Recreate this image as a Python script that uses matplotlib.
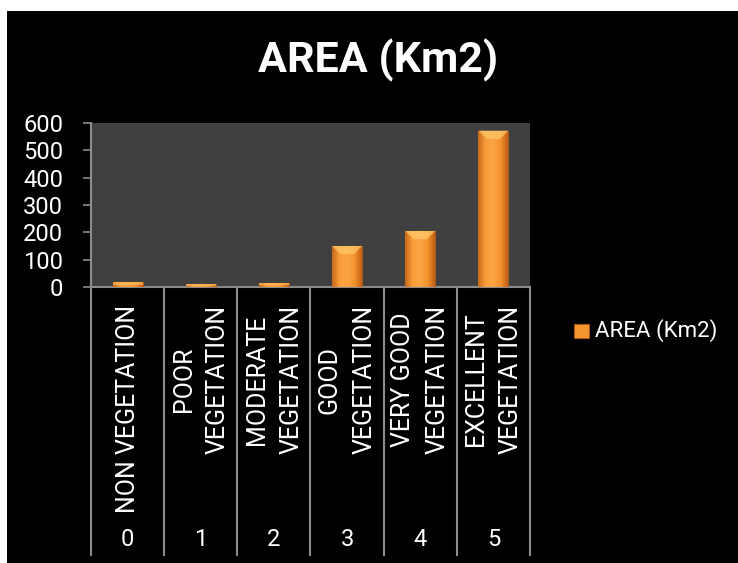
import matplotlib
matplotlib.use("Agg")
import matplotlib.pyplot as plt
import numpy as np
from matplotlib.patches import Rectangle
from matplotlib.colors import LinearSegmentedColormap

categories = ["NON VEGETATION", "POOR\nVEGETATION", "MODERATE\nVEGETATION",
              "GOOD\nVEGETATION", "VERY GOOD\nVEGETATION", "EXCELLENT\nVEGETATION"]
class_ids = ["0", "1", "2", "3", "4", "5"]
area_km2 = [17, 10, 15, 150, 205, 572]
y_ticks = [0, 100, 200, 300, 400, 500, 600]
series_name = "AREA (Km2)"
title = "AREA (Km2)"

FONT = ["Liberation Sans Narrow", "Roboto", "DejaVu Sans"]
plt.rcParams['font.family'] = FONT

W, H = 738, 563
fig = plt.figure(figsize=(W / 100, H / 100), dpi=100)
fig.patch.set_facecolor("white")
# black chart area with white margin at top/left
fig.add_artist(Rectangle((7 / W, 0), 1 - 7 / W, 1 - 11 / H, transform=fig.transFigure,
                         facecolor="black", edgecolor="none", zorder=-10))

left, right, top, bottom = 91, 530, 123, 287
ax = fig.add_axes([left / W, 1 - bottom / H, (right - left) / W, (bottom - top) / H])
ax.set_facecolor("#404040")

x = np.arange(len(categories))
bars = ax.bar(x, area_km2, width=0.41, color="#F7952E", edgecolor="#A85A1A",
              linewidth=0.8, zorder=3)

# horizontal gradient inside bars
cmap = LinearSegmentedColormap.from_list("og", ["#C8681C", "#FA9E3A", "#FBA446", "#F7952E", "#C26118"])
grad = np.linspace(0, 1, 64).reshape(1, -1)
for b in bars:
    bx, by, bw, bh = b.get_x(), b.get_y(), b.get_width(), b.get_height()
    im = ax.imshow(grad, cmap=cmap, extent=(bx, bx + bw, by, by + bh), aspect="auto", zorder=3.5)
    im.set_clip_path(b)
    # top bevel highlight
    if bh > 20:
        bev = min(bh * 0.25, 30)
        ax.fill([bx, bx + bw, bx + bw * 0.72, bx + bw * 0.28],
                [by + bh, by + bh, by + bh - bev, by + bh - bev],
                color="#FFC868", alpha=0.75, zorder=4, linewidth=0)
    else:
        ax.fill([bx, bx + bw, bx + bw, bx],
                [by + bh, by + bh, by + bh * 0.5, by + bh * 0.5],
                color="#FFC060", alpha=0.6, zorder=4, linewidth=0)

ax.set_xlim(-0.5, len(categories) - 0.5)
ax.set_ylim(0, 600)
ax.set_yticks(y_ticks)
ax.set_yticklabels([str(v) for v in y_ticks], color="white", fontsize=17)
ax.tick_params(axis="y", colors="#8C8C8C", labelcolor="white", length=6, width=1.2, pad=14)
ax.set_xticks([])
for s in ["top", "right"]:
    ax.spines[s].set_visible(False)
for s in ["left", "bottom"]:
    ax.spines[s].set_color("#8C8C8C")
    ax.spines[s].set_linewidth(1.5)

# multi-level category axis
sep_bottom = (bottom - 555) / (bottom - top)
for i in range(len(categories) + 1):
    ax.plot([i - 0.5, i - 0.5], [0, sep_bottom], transform=ax.get_xaxis_transform(),
            color="#8C8C8C", lw=1.5, clip_on=False)

lab_top = (bottom - 305) / (bottom - top)
num_y = (bottom - 540) / (bottom - top)
for i, (c, n) in enumerate(zip(categories, class_ids)):
    ax.text(i, lab_top, c, rotation=90, ha="center", va="top", multialignment="center",
            transform=ax.get_xaxis_transform(), color="white", fontsize=18, linespacing=1.55)
    ax.text(i, num_y, n, ha="center", va="center", transform=ax.get_xaxis_transform(),
            color="white", fontsize=17)

fig.text(378 / W, 1 - 60 / H, title, ha="center", va="center", color="white",
         fontsize=31, fontweight="bold")

# legend (manual)
fig.add_artist(Rectangle((574 / W, 1 - 338 / H), 15 / W, 14 / H, transform=fig.transFigure,
                         facecolor="#F7952E", edgecolor="#A85A1A", linewidth=0.8))
fig.text(595 / W, 1 - 331 / H, series_name, ha="left", va="center", color="white",
         fontsize=16)

fig.savefig("out.png", dpi=100, facecolor=fig.get_facecolor())
